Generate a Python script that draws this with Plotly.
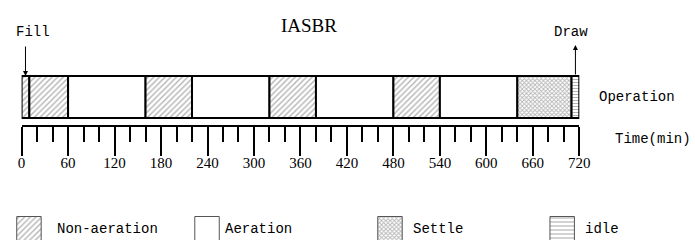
import plotly.graph_objects as go

# ---- data ----
phase_names = ["Fill", "Non-aeration", "Aeration", "Non-aeration", "Aeration",
               "Non-aeration", "Aeration", "Non-aeration", "Aeration", "Settle", "Draw"]
phase_start = [0, 10, 60, 160, 220, 320, 380, 480, 540, 640, 710]
phase_end = [10, 60, 160, 220, 320, 380, 480, 540, 640, 710, 720]
major_ticks = [0, 60, 120, 180, 240, 300, 360, 420, 480, 540, 600, 660, 720]
minor_ticks = [t for t in range(0, 721, 20) if t % 60 != 0]
legend_names = ["Non-aeration", "Aeration", "Settle", "idle"]

pattern_of = {"Fill": "/", "Non-aeration": "/", "Aeration": "", "Settle": "x", "Draw": "-", "idle": "-"}
size_of = {"Fill": 4, "Non-aeration": 4, "Aeration": 4, "Settle": 3, "Draw": 3, "idle": 4}
solid_of = {"Fill": 0.35, "Non-aeration": 0.35, "Aeration": 0.3, "Settle": 0.5, "Draw": 0.35, "idle": 0.3}

W, H = 695, 240
X0, X1 = 18, 588          # pixel span of 0..720 min
BAR_Y, BAR_H = 97, 42
AXIS_Y = 126

mono = "Liberation Mono"
serif = "Liberation Serif"
HATCH = "#6a6a6a"

fig = go.Figure()

durations = [e - s for s, e in zip(phase_start, phase_end)]
fig.add_trace(go.Bar(
    orientation="h",
    y=[BAR_Y] * len(phase_names),
    x=durations,
    base=phase_start,
    width=BAR_H,
    marker=dict(
        color="white",
        line=dict(color="black", width=2),
        pattern=dict(shape=[pattern_of[p] for p in phase_names],
                     size=[size_of[p] for p in phase_names],
                     solidity=[solid_of[p] for p in phase_names],
                     fgcolor=HATCH, bgcolor="white"),
    ),
    hoverinfo="skip", showlegend=False, xaxis="x", yaxis="y",
))

# legend swatches (pixel-space overlay axes)
leg_x = [13, 195, 382, 558]
leg_text_x = [52, 224, 416, 592]
for name, lx in zip(legend_names, leg_x):
    fig.add_trace(go.Bar(
        orientation="h", y=[229], x=[25], base=[lx], width=25,
        marker=dict(color="white", line=dict(color="#555", width=1),
                    pattern=dict(shape=pattern_of[name], fgcolor=HATCH, bgcolor="white",
                                 size=size_of[name], solidity=solid_of[name])),
        hoverinfo="skip", showlegend=False, xaxis="x2", yaxis="y2",
    ))

annotations = []
for name, tx in zip(legend_names, leg_text_x):
    annotations.append(dict(x=tx, y=229, xref="x2", yref="y2", text=name, showarrow=False,
                            xanchor="left", yanchor="middle",
                            font=dict(family=mono, size=14, color="black")))

annotations += [
    dict(x=312, y=25, xref="x2", yref="y2", text="IASBR", showarrow=False,
         font=dict(family=serif, size=19, color="black")),
    dict(x=30, y=32, xref="x2", yref="y2", text="Fill", showarrow=False,
         font=dict(family=mono, size=14, color="black")),
    dict(x=579, y=32, xref="x2", yref="y2", text="Draw", showarrow=False,
         font=dict(family=mono, size=14, color="black")),
    dict(x=606, y=BAR_Y, xref="x2", yref="y2", text="Operation", showarrow=False,
         xanchor="left", font=dict(family=mono, size=14, color="black")),
    dict(x=622, y=139, xref="x2", yref="y2", text="Time(min)", showarrow=False,
         xanchor="left", font=dict(family=mono, size=14, color="black")),
    # Fill arrow (pointing down to bar top)
    dict(x=5, y=BAR_Y - BAR_H / 2, xref="x", yref="y", ax=5, ay=45, axref="x", ayref="y",
         text="", showarrow=True, arrowhead=2, arrowsize=1, arrowwidth=1, arrowcolor="black"),
    # Draw arrow (pointing up from bar top)
    dict(x=715, y=45, xref="x", yref="y", ax=715, ay=BAR_Y - BAR_H / 2, axref="x", ayref="y",
         text="", showarrow=True, arrowhead=2, arrowsize=1, arrowwidth=1, arrowcolor="black"),
]

fig.update_layout(
    width=W, height=H,
    margin=dict(l=0, r=0, t=0, b=0),
    plot_bgcolor="rgba(0,0,0,0)", paper_bgcolor="white",
    barmode="overlay",
    xaxis=dict(domain=[X0 / W, X1 / W], range=[0, 720], anchor="free", position=1 - AXIS_Y / H,
               showline=True, linecolor="black", linewidth=2, showgrid=False, zeroline=False,
               tickmode="array", tickvals=major_ticks, ticktext=[str(t) for t in major_ticks],
               ticks="outside", ticklen=29, tickwidth=2, tickcolor="black",
               ticklabelstandoff=-6,
               tickfont=dict(family=serif, size=15, color="black"),
               minor=dict(tickmode="array", tickvals=minor_ticks, ticks="outside",
                          ticklen=15, tickwidth=2, tickcolor="black", showgrid=False),
               fixedrange=True),
    yaxis=dict(domain=[0, 1], range=[H, 0], visible=False, fixedrange=True),
    xaxis2=dict(domain=[0, 1], range=[0, W], visible=False, anchor="y2", fixedrange=True),
    yaxis2=dict(domain=[0, 1], range=[H, 0], visible=False, anchor="x2", fixedrange=True),
    annotations=annotations,
    showlegend=False,
)

fig.write_html("out.html", config={"displayModeBar": False},
               post_script="document.body.style.margin='0';document.body.style.overflow='hidden';")
